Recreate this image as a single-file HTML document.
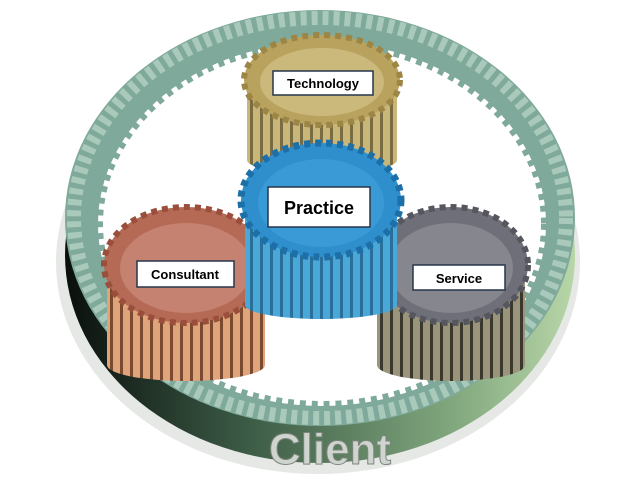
<!DOCTYPE html>
<html><head><meta charset="utf-8"><style>
html,body{margin:0;padding:0;background:#fff;width:640px;height:480px;overflow:hidden}
svg{display:block}
</style></head><body>
<svg width="640" height="480" viewBox="0 0 640 480" xmlns="http://www.w3.org/2000/svg">
<defs>
<linearGradient id="band" x1="0" x2="1" y1="0" y2="0">
<stop offset="0" stop-color="#0a0f0c"/><stop offset="0.35" stop-color="#3b5a45"/><stop offset="0.75" stop-color="#7fa57c"/><stop offset="1" stop-color="#b8d6a8"/></linearGradient>
<pattern id="stripG" width="10" height="10" patternUnits="userSpaceOnUse"><rect width="10" height="10" fill="#c9b77a"/><rect width="3" height="10" fill="#7a6c42"/></pattern>
<pattern id="stripB" width="10" height="10" patternUnits="userSpaceOnUse"><rect width="10" height="10" fill="#4aa8d8"/><rect width="3" height="10" fill="#2a6f9a"/></pattern>
<pattern id="stripR" width="10" height="10" patternUnits="userSpaceOnUse"><rect width="10" height="10" fill="#e0a47a"/><rect width="3" height="10" fill="#7a4a30"/></pattern>
<pattern id="stripS" width="10" height="10" patternUnits="userSpaceOnUse"><rect width="10" height="10" fill="#9a957a"/><rect width="3" height="10" fill="#3a382c"/></pattern>
</defs>
<ellipse cx="318" cy="262" rx="262" ry="212" fill="#e6e8e6"/>
<ellipse cx="320" cy="255" rx="255" ry="208" fill="url(#band)"/>
<ellipse cx="320" cy="218" rx="255" ry="208" fill="#7fa99a"/>
<ellipse cx="320" cy="218" rx="246" ry="200" fill="none" stroke="#a9c9bb" stroke-width="14" stroke-dasharray="6 5"/>
<ellipse cx="322" cy="224" rx="224" ry="182" fill="#fff" stroke="#7fa99a" stroke-width="10" stroke-dasharray="6 6"/>
<ellipse cx="322" cy="224" rx="214" ry="172" fill="#fff"/>
<!-- Technology -->
<rect x="247" y="80" width="150" height="80" fill="url(#stripG)"/>
<ellipse cx="322" cy="160" rx="75" ry="14" fill="url(#stripG)"/>
<ellipse cx="322" cy="80" rx="78" ry="45" fill="#b9a25e" stroke="#9b8646" stroke-width="6" stroke-dasharray="6 5"/>
<ellipse cx="322" cy="82" rx="62" ry="34" fill="#cbb97c"/>
<rect x="273" y="71" width="100" height="24" fill="#fff" stroke="#26364a" stroke-width="1.5"/>
<text x="323" y="88" text-anchor="middle" font-family="Liberation Sans,sans-serif" font-size="13" font-weight="bold" fill="#000">Technology</text>
<!-- Consultant -->
<rect x="107" y="265" width="158" height="100" fill="url(#stripR)"/>
<ellipse cx="186" cy="365" rx="79" ry="16" fill="url(#stripR)"/>
<ellipse cx="186" cy="265" rx="82" ry="58" fill="#b56a55" stroke="#9a4f3c" stroke-width="6" stroke-dasharray="6 5"/>
<ellipse cx="186" cy="268" rx="66" ry="45" fill="#c58270"/>
<rect x="137" y="261" width="97" height="26" fill="#fff" stroke="#26364a" stroke-width="1.5"/>
<text x="185" y="279" text-anchor="middle" font-family="Liberation Sans,sans-serif" font-size="13" font-weight="bold" fill="#000">Consultant</text>
<!-- Service -->
<rect x="377" y="265" width="148" height="100" fill="url(#stripS)"/>
<ellipse cx="451" cy="365" rx="74" ry="16" fill="url(#stripS)"/>
<ellipse cx="451" cy="265" rx="77" ry="58" fill="#6e6f78" stroke="#55565e" stroke-width="6" stroke-dasharray="6 5"/>
<ellipse cx="451" cy="268" rx="62" ry="45" fill="#85868e"/>
<rect x="413" y="265" width="92" height="25" fill="#fff" stroke="#26364a" stroke-width="1.5"/>
<text x="459" y="283" text-anchor="middle" font-family="Liberation Sans,sans-serif" font-size="13" font-weight="bold" fill="#000">Service</text>
<!-- Practice -->
<rect x="245" y="200" width="152" height="105" fill="url(#stripB)"/>
<ellipse cx="321" cy="305" rx="76" ry="14" fill="url(#stripB)"/>
<ellipse cx="321" cy="200" rx="80" ry="57" fill="#2f8fcc" stroke="#1d6fa8" stroke-width="7" stroke-dasharray="6 5"/>
<ellipse cx="321" cy="203" rx="63" ry="44" fill="#3a9ad6"/>
<rect x="268" y="187" width="102" height="40" fill="#fff" stroke="#26364a" stroke-width="1.5"/>
<text x="319" y="214" text-anchor="middle" font-family="Liberation Sans,sans-serif" font-size="18" font-weight="bold" fill="#000">Practice</text>
<text x="330" y="464" text-anchor="middle" font-family="Liberation Sans,sans-serif" font-size="44" font-weight="bold" fill="#cfd4cf" stroke="#7d867d" stroke-width="1">Client</text>
</svg>
</body></html>
